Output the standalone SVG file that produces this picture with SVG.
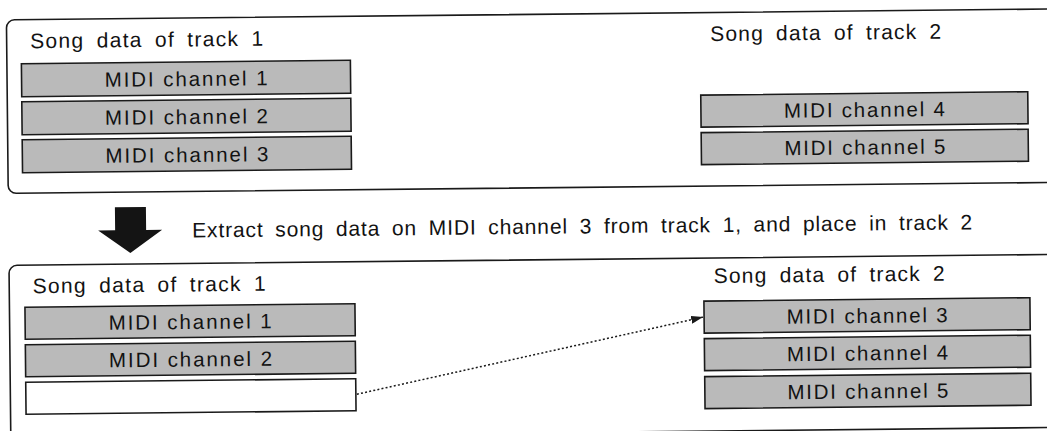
<svg xmlns="http://www.w3.org/2000/svg" width="1047" height="431" viewBox="0 0 1047 431">
  <style>
    .panel { fill: none; stroke: #1a1a1a; stroke-width: 1.6; }
    .box { fill: #bababa; stroke: #1a1a1a; stroke-width: 1.6; }
    .empty { fill: #ffffff; stroke: #1a1a1a; stroke-width: 1.6; }
    .t { font-family: "Liberation Sans", Arial, sans-serif; font-size: 21px; fill: #121212; word-spacing: 5px; }
    .m { font-family: "Liberation Sans", Arial, sans-serif; font-size: 20.5px; fill: #121212; text-anchor: middle; }
    .conn { fill: none; stroke: #1a1a1a; stroke-width: 1.5; stroke-dasharray: 2 2.2; }
  </style>
  <defs>
    <marker id="arrow" viewBox="0 0 12 8" refX="12" refY="4" markerWidth="12" markerHeight="8" markerUnits="userSpaceOnUse" orient="auto">
      <path d="M0,0 L12,4 L0,8 z" fill="#1a1a1a"/>
    </marker>
  </defs>
  <rect width="1047" height="431" fill="#ffffff"/>
  <g transform="rotate(-0.6 523 215)">
    <g id="panel-before">
      <rect class="panel" x="8.5" y="14.5" width="1060" height="173.5" rx="8"/>
      <text class="t" x="32" y="43" textLength="233" lengthAdjust="spacing">Song data of track 1</text>
      <text class="t" x="712" y="43" textLength="231" lengthAdjust="spacing">Song data of track 2</text>
    </g>
    <g id="before-t1-ch1">
      <rect class="box" x="23" y="58.5" width="329" height="33"/>
      <text class="m" x="187.5" y="82.5" textLength="163" lengthAdjust="spacing">MIDI channel 1</text>
    </g>
    <g id="before-t1-ch2">
      <rect class="box" x="23" y="96.5" width="329" height="33"/>
      <text class="m" x="187.5" y="120.5" textLength="163" lengthAdjust="spacing">MIDI channel 2</text>
    </g>
    <g id="before-t1-ch3">
      <rect class="box" x="23" y="134.5" width="329" height="33"/>
      <text class="m" x="187.5" y="158.5" textLength="163" lengthAdjust="spacing">MIDI channel 3</text>
    </g>
    <g id="before-t2-ch4">
      <rect class="box" x="702" y="97" width="327" height="32"/>
      <text class="m" x="865.5" y="120.5" textLength="161" lengthAdjust="spacing">MIDI channel 4</text>
    </g>
    <g id="before-t2-ch5">
      <rect class="box" x="702" y="134.5" width="327" height="32"/>
      <text class="m" x="865.5" y="158" textLength="161" lengthAdjust="spacing">MIDI channel 5</text>
    </g>

    <g id="step-arrow">
      <path d="M115,203 L146,203 L146,226 L162,226 L130,249 L98,226 L115,226 z" fill="#141414"/>
      <text class="t" x="192" y="234" textLength="780" lengthAdjust="spacing">Extract song data on MIDI channel 3 from track 1, and place in track 2</text>
    </g>

    <g id="panel-after">
      <rect class="panel" x="8.5" y="260" width="1060" height="173" rx="8"/>
      <text class="t" x="32" y="288" textLength="233" lengthAdjust="spacing">Song data of track 1</text>
      <text class="t" x="713" y="285" textLength="231" lengthAdjust="spacing">Song data of track 2</text>
    </g>
    <g id="after-t1-ch1">
      <rect class="box" x="24" y="302" width="330" height="32"/>
      <text class="m" x="189" y="325.5" textLength="163" lengthAdjust="spacing">MIDI channel 1</text>
    </g>
    <g id="after-t1-ch2">
      <rect class="box" x="24" y="339.5" width="330" height="32"/>
      <text class="m" x="189" y="363" textLength="163" lengthAdjust="spacing">MIDI channel 2</text>
    </g>
    <g id="after-t1-empty">
      <rect class="empty" x="24" y="377" width="330" height="32"/>
    </g>
    <g id="after-t2-ch3">
      <rect class="box" x="703" y="303" width="326" height="32"/>
      <text class="m" x="866" y="326.5" textLength="161" lengthAdjust="spacing">MIDI channel 3</text>
    </g>
    <g id="after-t2-ch4">
      <rect class="box" x="703" y="340.5" width="326" height="32"/>
      <text class="m" x="866" y="364" textLength="161" lengthAdjust="spacing">MIDI channel 4</text>
    </g>
    <g id="after-t2-ch5">
      <rect class="box" x="703" y="378.5" width="326" height="32"/>
      <text class="m" x="866" y="402" textLength="161" lengthAdjust="spacing">MIDI channel 5</text>
    </g>

    <g id="connectors">
      <line class="conn" x1="355" y1="392.5" x2="702" y2="319" marker-end="url(#arrow)"/>
    </g>
  </g>
</svg>
